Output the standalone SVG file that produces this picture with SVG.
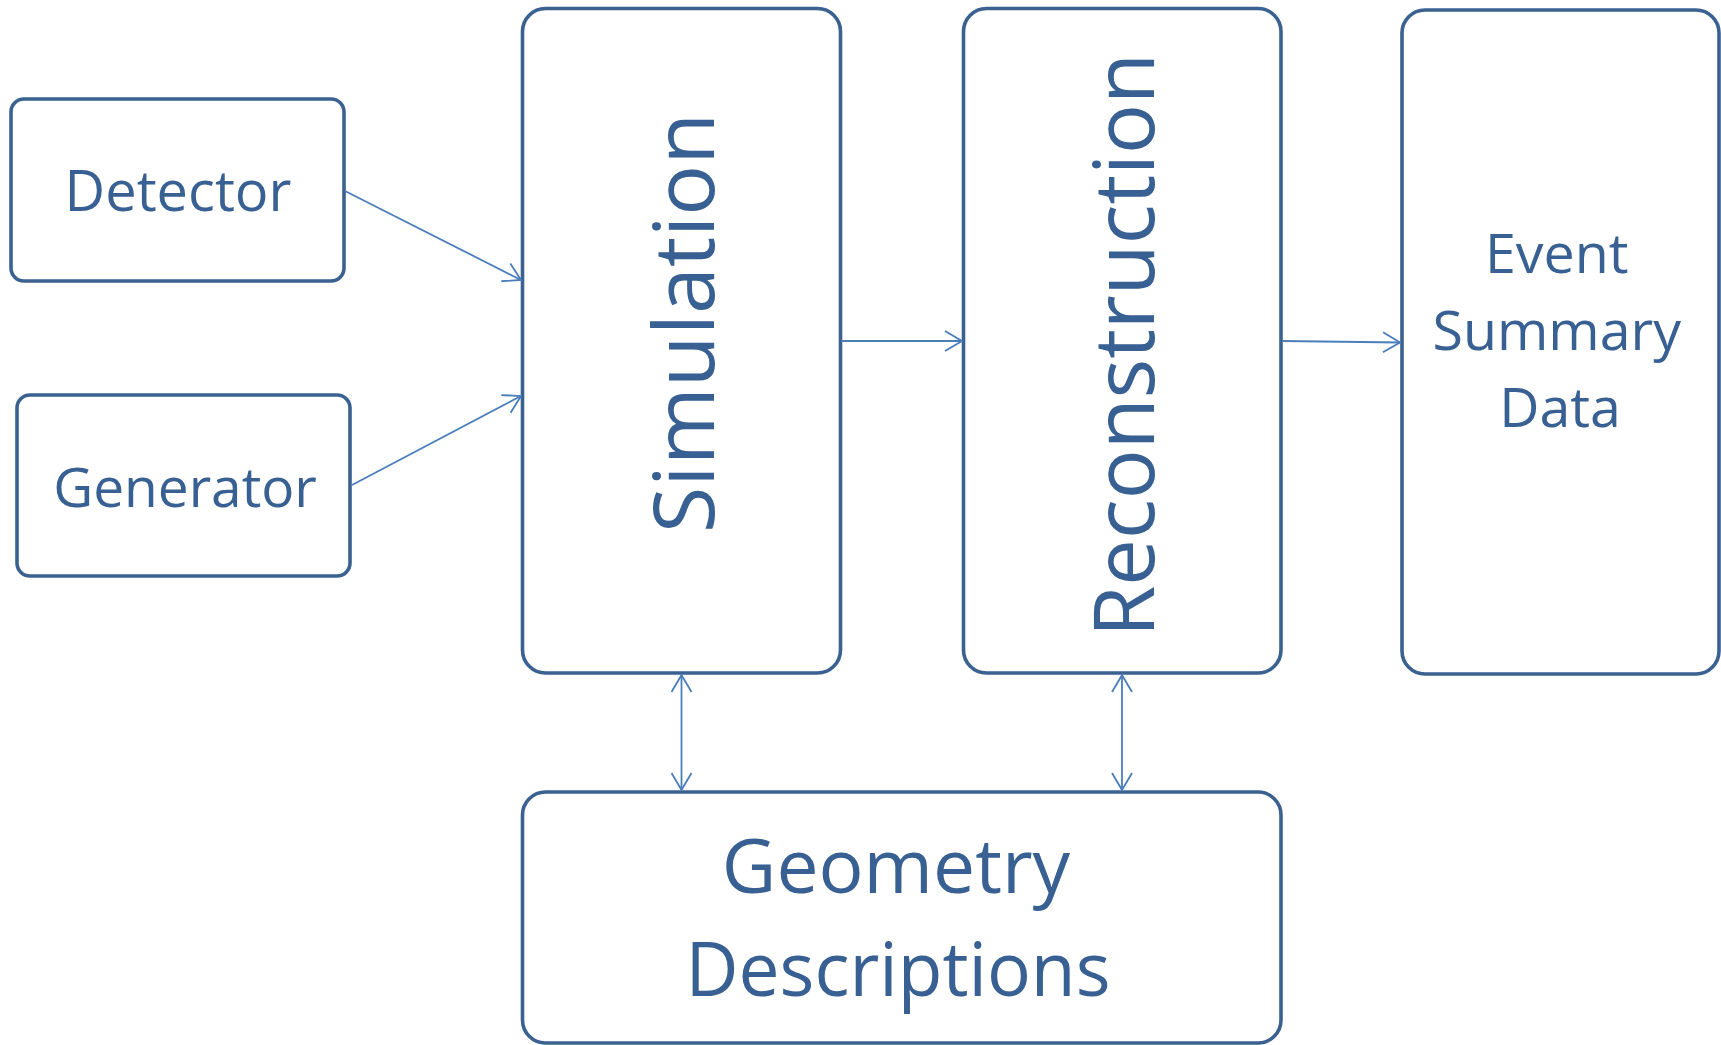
<svg xmlns="http://www.w3.org/2000/svg" width="1721" height="1045" viewBox="0 0 1721 1045">
  <defs>
    <style>
      .box { fill: #ffffff; stroke: #3a6190; stroke-width: 3.6; }
      .lbl { fill: #386092; font-family: "Open Sans", "Noto Sans", "Liberation Sans", sans-serif; }
      .conn { fill: none; stroke: #4a7ebb; stroke-width: 1.8; }
    </style>
    <marker id="head" markerUnits="userSpaceOnUse" markerWidth="24" markerHeight="24" viewBox="-20 -12 22 24" refX="0" refY="0" orient="auto-start-reverse">
      <path d="M-17,-10 L0,0 L-17,10" fill="none" stroke="#4a7ebb" stroke-width="1.8"/>
    </marker>
  </defs>
  <rect width="1721" height="1045" fill="#ffffff"/>

  <g id="detector">
    <rect class="box" x="11" y="99" width="333" height="182" rx="13"/>
    <text class="lbl" x="178" y="211" font-size="56" text-anchor="middle">Detector</text>
  </g>

  <g id="generator">
    <rect class="box" x="17" y="395" width="333" height="181" rx="13"/>
    <text class="lbl" x="185" y="507" font-size="55" text-anchor="middle">Generator</text>
  </g>

  <g id="simulation">
    <rect class="box" x="522.5" y="8.5" width="318" height="664.5" rx="23"/>
    <text class="lbl" transform="translate(714,533) rotate(-90)" font-size="84" textLength="420" lengthAdjust="spacingAndGlyphs">Simulation</text>
  </g>

  <g id="reconstruction">
    <rect class="box" x="963.5" y="8.5" width="317.5" height="664.5" rx="23"/>
    <text class="lbl" transform="translate(1154,637) rotate(-90)" font-size="84" textLength="584" lengthAdjust="spacingAndGlyphs">Reconstruction</text>
  </g>

  <g id="event-summary-data">
    <rect class="box" x="1402" y="10" width="317" height="664" rx="23"/>
    <text class="lbl" font-size="55.5" text-anchor="middle">
      <tspan x="1564" y="273">Event</tspan>
      <tspan x="1564" y="350">Summary</tspan>
      <tspan x="1560" y="427">Data</tspan>
    </text>
  </g>

  <g id="geometry-descriptions">
    <rect class="box" x="522.5" y="792" width="758.5" height="251" rx="23"/>
    <text class="lbl" x="896" y="893" font-size="75" text-anchor="middle">Geometry</text>
    <text class="lbl" x="898" y="996" font-size="75" text-anchor="middle" textLength="425" lengthAdjust="spacingAndGlyphs">Descriptions</text>
  </g>

  <g id="connectors">
    <line class="conn" x1="345" y1="191" x2="521" y2="280" marker-end="url(#head)"/>
    <line class="conn" x1="352" y1="485" x2="521" y2="396" marker-end="url(#head)"/>
    <line class="conn" x1="841" y1="341" x2="962" y2="341" marker-end="url(#head)"/>
    <line class="conn" x1="1282" y1="341" x2="1400" y2="342.5" marker-end="url(#head)"/>
    <line class="conn" x1="681.5" y1="675" x2="681.5" y2="790" marker-start="url(#head)" marker-end="url(#head)"/>
    <line class="conn" x1="1122" y1="675" x2="1122" y2="790" marker-start="url(#head)" marker-end="url(#head)"/>
  </g>
</svg>
